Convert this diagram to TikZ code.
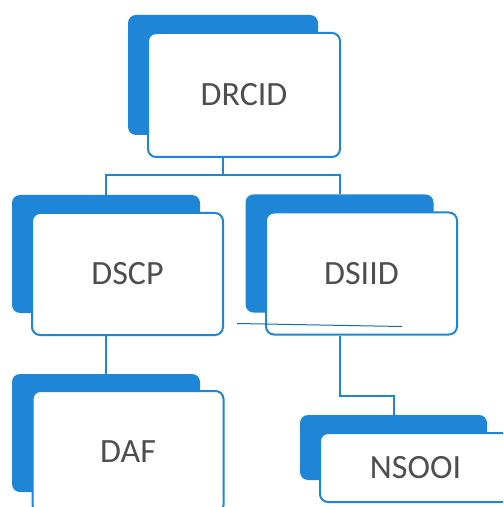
\documentclass[tikz,border=0pt]{standalone}
\usepackage{fontspec}
\setmainfont{Carlito}
\usetikzlibrary{backgrounds}

\definecolor{orgblue}{RGB}{31,133,214}
\definecolor{orgtext}{RGB}{78,78,78}

\begin{document}
\begin{tikzpicture}[x=0.5pt,y=-0.5pt,% un pixel de l'original
	back/.style={fill=orgblue,rounded corners=4pt,minimum width=94pt,minimum height=59pt,inner sep=0pt},
	front/.style={draw=orgblue,fill=white,line width=1pt,rounded corners=4pt,
		minimum width=95.5pt,minimum height=61pt,inner sep=0pt,
		text=orgtext,font=\fontsize{17}{20}\selectfont},
	link/.style={draw=orgblue,line width=1pt}]

\clip (0,0) rectangle (503,507);

% La direccio, a dalt de tot
\node [back, minimum width=95pt, minimum height=60pt] (DRCIDb) at (223,75) {};
\node [front, minimum width=96pt, minimum height=62pt] (DRCID) at (244,95) {DRCID};
%%%%%%%%%%%%%%%%%%%%%%%%%%%%%%%%%%%%%%%%%%%%%%%%%%%%%%%%%%%%%%%%%%%%%%%%%%%%%%%%%%%%%%%%%%%%%%%%%%%%%%%%%
\node [back]	(DSCPb)		at (106,254)	{};
\node [front]	(DSCP)		at (127.5,274)	{DSCP};

\node [back]	(DSIIDb)	at (339.5,253.5) {};
\node [front]	(DSIID)		at (361.5,273.5) {DSIID};
%%%%%%%%%%%%%%%%%%%%%%%%%%%%%%%%%%%%%%%%%%%%%%%%%%%%%%%%%%%%%%%%%%%%%%%%%%%%%%%%%%%%%%%%%%%%%%%%%%%%%%%%%
\node [back]	(DAFb)		at (106,433)	{};
\node [front]	(DAF)		at (128,452)	{DAF};

\node [back, minimum width=93.5pt, minimum height=32.5pt]	(NSOOIb) at (393.5,447.5) {};
\node [front, minimum height=34.5pt]				(NSOOI)	 at (415.5,467.5) {NSOOI};

% el tracet solt de sota DSIID
\draw [draw=orgblue!80!black, line width=0.5pt] (DSIID.south west) ++(-28,-12) -- ++(165,3);

%%%%%%%%%%%%%%%%%%%%%%%%%%%%%%%%%%%%%%%%%%%%%%%%%%%%%%%%%%%%%%%%%%%%%%%%%%%%%%%%%%%%%%%%%%%%%%%%%%%%%%%%%
% Connexions
%%%%%%%%%%%%%%%%%%%%%%%%%%%%%%%%%%%%%%%%%%%%%%%%%%%%%%%%%%%%%%%%%%%%%%%%%%%%%%%%%%%%%%%%%%%%%%%%%%%%%%%%%
\begin{pgfonlayer}{background}
\path [link]
	(DRCIDb.center |- DRCID.south)	-- ++(0,17) -| (DSCPb.north)
	(DRCIDb.center |- DRCID.south)	-- ++(0,17) -| (DSIIDb.north)
	(DSCPb.center |- DSCP.south)	-- (DAFb.north)
	(DSIIDb.center |- DSIID.south)	-- ++(0,60) -| (NSOOIb.north);
\end{pgfonlayer}

\end{tikzpicture}
\end{document}
